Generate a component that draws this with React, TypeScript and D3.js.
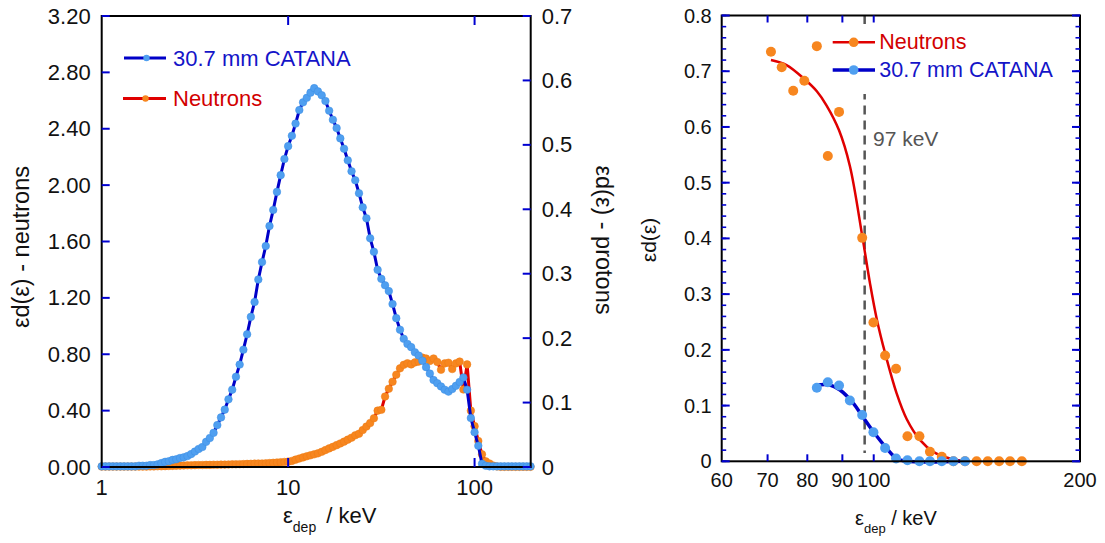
import React from 'react';
import * as d3 from 'd3';

// ---------- Left panel data (keV bins, 50 per decade) ----------
const energies = [
  1.000, 1.047, 1.096, 1.148, 1.202, 1.259, 1.318, 1.380, 1.445, 1.514,
  1.585, 1.660, 1.738, 1.820, 1.905, 1.995, 2.089, 2.188, 2.291, 2.399,
  2.512, 2.630, 2.754, 2.884, 3.020, 3.162, 3.311, 3.467, 3.631, 3.802,
  3.981, 4.169, 4.365, 4.571, 4.786, 5.012, 5.248, 5.495, 5.754, 6.026,
  6.310, 6.607, 6.918, 7.244, 7.586, 7.943, 8.318, 8.710, 9.120, 9.550,
  10.00, 10.47, 10.96, 11.48, 12.02, 12.59, 13.18, 13.80, 14.45, 15.14,
  15.85, 16.60, 17.38, 18.20, 19.05, 19.95, 20.89, 21.88, 22.91, 23.99,
  25.12, 26.30, 27.54, 28.84, 30.20, 31.62, 33.11, 34.67, 36.31, 38.02,
  39.81, 41.69, 43.65, 45.71, 47.86, 50.12, 52.48, 54.95, 57.54, 60.26,
  63.10, 66.07, 69.18, 72.44, 75.86, 79.43, 83.18, 87.10, 91.20, 95.50,
  100.0, 104.7, 109.6, 114.8, 120.2, 125.9, 131.8, 138.0, 144.5, 151.4,
  158.5, 166.0, 173.8, 182.0, 190.5, 199.5,
];

// 30.7 mm CATANA (protons) - right axis units
const catanaLeft = [
  0.001, 0.001, 0.001, 0.001, 0.001, 0.001, 0.001, 0.001, 0.001, 0.001,
  0.002, 0.002, 0.002, 0.003, 0.003, 0.004, 0.006, 0.008, 0.009, 0.011,
  0.012, 0.014, 0.015, 0.017, 0.020, 0.024, 0.028, 0.031, 0.039, 0.045,
  0.053, 0.065, 0.077, 0.089, 0.105, 0.120, 0.140, 0.159, 0.182, 0.206,
  0.233, 0.256, 0.291, 0.318, 0.343, 0.374, 0.399, 0.427, 0.453, 0.478,
  0.498, 0.514, 0.533, 0.554, 0.566, 0.573, 0.581, 0.588, 0.583, 0.577,
  0.568, 0.553, 0.539, 0.526, 0.510, 0.494, 0.476, 0.459, 0.445, 0.425,
  0.403, 0.386, 0.355, 0.334, 0.306, 0.292, 0.282, 0.273, 0.253, 0.231,
  0.213, 0.199, 0.191, 0.186, 0.178, 0.173, 0.165, 0.155, 0.145, 0.135,
  0.130, 0.125, 0.120, 0.117, 0.121, 0.126, 0.132, 0.139, 0.120, 0.076,
  0.054, 0.033, 0.005, 0.002, 0.001, 0.001, 0.001, 0.001, 0.001, 0.001,
  0.001, 0.001, 0.001, 0.001, 0.001, 0.001,
];

// Neutrons - left axis units
const neutronsLeft = [
  0.003, 0.003, 0.003, 0.003, 0.003, 0.003, 0.003, 0.003, 0.003, 0.003,
  0.003, 0.003, 0.003, 0.004, 0.004, 0.005, 0.005, 0.006, 0.007, 0.008,
  0.009, 0.010, 0.011, 0.012, 0.012, 0.013, 0.014, 0.014, 0.015, 0.015,
  0.016, 0.016, 0.017, 0.017, 0.018, 0.019, 0.019, 0.020, 0.021, 0.022,
  0.023, 0.024, 0.025, 0.025, 0.026, 0.028, 0.030, 0.032, 0.034, 0.036,
  0.038, 0.043, 0.052, 0.060, 0.068, 0.076, 0.083, 0.090, 0.097, 0.108,
  0.120, 0.132, 0.143, 0.155, 0.167, 0.180, 0.194, 0.208, 0.225, 0.236,
  0.262, 0.287, 0.312, 0.346, 0.400, 0.406, 0.500, 0.555, 0.605, 0.655,
  0.700, 0.725, 0.736, 0.728, 0.742, 0.748, 0.776, 0.770, 0.752, 0.770,
  0.745, 0.690, 0.735, 0.740, 0.695, 0.735, 0.748, 0.550, 0.728, 0.400,
  0.290, 0.185, 0.090, 0.040, 0.025, 0.010, 0.004, 0.001, 0.001, 0.001,
  0.001, 0.001, 0.001, 0.001, 0.001, 0.001,
];

const leftYTicks = [0, 0.4, 0.8, 1.2, 1.6, 2.0, 2.4, 2.8, 3.2];
const leftY2Ticks = [0, 0.1, 0.2, 0.3, 0.4, 0.5, 0.6, 0.7];
const leftXTicks = [1, 10, 100];
const leftXMarks = [10, 100];

// ---------- Right panel data ----------
const neutronE2 = [70.8, 73.4, 76.3, 79.2, 82.6, 85.7, 89.0, 96.2, 99.9, 103.9, 107.8, 112.0, 116.6, 120.8, 125.7, 130.7, 135.9, 141.3, 146.7, 152.4, 158.1, 164.5];
const neutronV2 = [0.735, 0.707, 0.665, 0.683, 0.745, 0.548, 0.627, 0.401, 0.249, 0.190, 0.166, 0.045, 0.045, 0.017, 0.008, 0, 0, 0, 0, 0, 0, 0];
const catanaE2 = [82.6, 85.7, 89.0, 92.3, 96.2, 99.9, 103.9, 107.8, 112.0, 116.6, 120.8, 125.7, 130.7, 135.9];
const catanaV2 = [0.132, 0.142, 0.136, 0.109, 0.083, 0.052, 0.024, 0.005, 0.002, 0, 0, 0, 0, 0];

const neutronFitE = [70.8, 74.6, 79.2, 82.6, 85.4, 89.0, 92.3, 96.2, 98.8, 101.0, 103.9, 108.0, 111.7, 116.9, 122.2, 129.2, 135.9];
const neutronFitV = [0.720, 0.711, 0.686, 0.664, 0.638, 0.594, 0.530, 0.405, 0.318, 0.256, 0.194, 0.122, 0.076, 0.038, 0.017, 0.005, 0.0];
const catanaFitE = [82.6, 86.3, 89.3, 93.4, 96.0, 99.9, 104.5, 108.0, 111.7, 135.9];
const catanaFitV = [0.137, 0.137, 0.128, 0.104, 0.083, 0.053, 0.023, 0.005, 0.0, 0.0];

const thresholdE = 97;
const rightXTicks = [60, 70, 80, 90, 100, 200];
const rightXMarks = [70, 80, 90, 100];
const rightYTicks = [0, 0.1, 0.2, 0.3, 0.4, 0.5, 0.6, 0.7, 0.8];

const FONT = "'Liberation Sans', Arial, Helvetica, sans-serif";
const BLUE_LINE = '#0000c8';
const BLUE_PT = '#4f9ff0';
const BLUE_PT_EDGE = '#3b8ce2';
const ORANGE_PT = '#f7861f';
const ORANGE_PT_EDGE = '#ec7a12';
const RED_LINE = '#e00000';
const TICK = '#0000d0';
const TXT = '#111';

export default function App() {
  // ---------- left panel scales ----------
  const L = { x0: 101.7, x1: 530.7, y0: 16, y1: 467 };
  const xL = d3.scaleLog().domain([1, 200]).range([L.x0, L.x1]);
  const yL = d3.scaleLinear().domain([0, 3.2]).range([L.y1, L.y0]);
  const yL2 = d3.scaleLinear().domain([0, 0.7]).range([L.y1, L.y0]);

  const catanaPts = energies.map((e, i) => [xL(e), yL2(catanaLeft[i])] as [number, number]);
  const neutronPts = energies.map((e, i) => [xL(e), yL(neutronsLeft[i])] as [number, number]);
  const lineGen = d3.line();

  // ---------- right panel scales ----------
  const R = { x0: 721.7, x1: 1080, y0: 15.5, y1: 461.3 };
  const xR = d3.scaleLog().domain([60, 200]).range([R.x0, R.x1]);
  const yR = d3.scaleLinear().domain([0, 0.8]).range([R.y1, R.y0]);
  const minorR = yR.ticks(40);
  const smooth = d3.line().curve(d3.curveCatmullRom.alpha(0.5));
  const nFit = neutronFitE.map((e, i) => [xR(e), yR(neutronFitV[i])] as [number, number]);
  const cFit = catanaFitE.map((e, i) => [xR(e), yR(catanaFitV[i])] as [number, number]);

  const fmt2 = d3.format('.2f');
  const fmtG = d3.format('~g');

  return (
    <svg width={1105} height={543} style={{ position: 'absolute', left: 0, top: 0, background: '#fff' }} fontFamily={FONT}>
      <rect x={0} y={0} width={1105} height={543} fill="#fff" />

      {/* ================= LEFT PANEL ================= */}
      <path d={lineGen(neutronPts) || ''} fill="none" stroke={RED_LINE} strokeWidth={3} />
      {neutronPts.map((p, i) => (
        <circle key={'n' + i} cx={p[0]} cy={p[1]} r={3.8} fill={ORANGE_PT} stroke={ORANGE_PT_EDGE} strokeWidth={0.5} />
      ))}
      <path d={lineGen(catanaPts) || ''} fill="none" stroke={BLUE_LINE} strokeWidth={3} />
      {catanaPts.map((p, i) => (
        <circle key={'c' + i} cx={p[0]} cy={p[1]} r={3.8} fill={BLUE_PT} stroke={BLUE_PT_EDGE} strokeWidth={0.5} />
      ))}

      <rect x={L.x0} y={L.y0} width={L.x1 - L.x0} height={L.y1 - L.y0} fill="none" stroke="#000" strokeWidth={2} />

      {leftYTicks.map((v) => (
        <g key={'ly' + v}>
          <line x1={L.x0} x2={L.x0 + 8} y1={yL(v)} y2={yL(v)} stroke={TICK} strokeWidth={2} />
          <text x={L.x0 - 11} y={yL(v)} textAnchor="end" dominantBaseline="central" fontSize={22} fill={TXT}>{fmt2(v)}</text>
        </g>
      ))}
      {leftY2Ticks.map((v) => (
        <g key={'ry' + v}>
          <line x1={L.x1 - 8} x2={L.x1} y1={yL2(v)} y2={yL2(v)} stroke={TICK} strokeWidth={2} />
          <text x={L.x1 + 11} y={yL2(v)} textAnchor="start" dominantBaseline="central" fontSize={22} fill={TXT}>{fmtG(v)}</text>
        </g>
      ))}
      {leftXMarks.map((v) => (
        <g key={'lx' + v}>
          <line x1={xL(v)} x2={xL(v)} y1={L.y0} y2={L.y0 + 9} stroke={TICK} strokeWidth={2} />
          <line x1={xL(v)} x2={xL(v)} y1={L.y1 - 9} y2={L.y1} stroke={TICK} strokeWidth={2} />
        </g>
      ))}
      {leftXTicks.map((v) => (
        <text key={'lxl' + v} x={xL(v)} y={495} textAnchor="middle" fontSize={22} fill={TXT}>{v}</text>
      ))}

      <text x={283} y={523} fontSize={22} fill={TXT}>
        <tspan>ε</tspan>
        <tspan dy={9} fontSize={14}>dep</tspan>
        <tspan dy={-9} dx={4}> / keV</tspan>
      </text>
      <text transform="translate(21,247) rotate(-90)" textAnchor="middle" dominantBaseline="central" fontSize={23.5} fill={TXT}>εd(ε) - neutrons</text>
      <text transform="translate(604,240) rotate(90)" textAnchor="middle" dominantBaseline="central" fontSize={23.5} fill={TXT}>εd(ε) - protons</text>

      <line x1={124} x2={166} y1={58} y2={58} stroke={BLUE_LINE} strokeWidth={3} />
      <circle cx={146.5} cy={58} r={3.2} fill={BLUE_PT} />
      <text x={173} y={58} dominantBaseline="central" fontSize={22} fill="#1414c8">30.7 mm CATANA</text>
      <line x1={123} x2={166} y1={98.5} y2={98.5} stroke={RED_LINE} strokeWidth={3} />
      <circle cx={145.5} cy={98.5} r={3.2} fill={ORANGE_PT} />
      <text x={173} y={98.5} dominantBaseline="central" fontSize={22} fill="#d20000">Neutrons</text>

      {/* ================= RIGHT PANEL ================= */}
      <line x1={xR(thresholdE)} x2={xR(thresholdE)} y1={R.y0} y2={yR(0.015)} stroke="#555" strokeWidth={2.5} strokeDasharray="9,6" />
      <path d={smooth(nFit) || ''} fill="none" stroke={RED_LINE} strokeWidth={2.5} />
      <path d={smooth(cFit) || ''} fill="none" stroke={BLUE_LINE} strokeWidth={3.5} />
      {neutronE2.map((e, i) => (
        <circle key={'n2' + i} cx={xR(e)} cy={yR(neutronV2[i])} r={5} fill={ORANGE_PT} />
      ))}
      {catanaE2.map((e, i) => (
        <circle key={'c2' + i} cx={xR(e)} cy={yR(catanaV2[i])} r={5} fill={BLUE_PT} />
      ))}

      <rect x={829} y={24} width={232} height={70} fill="#fff" />
      <line x1={832.7} x2={875} y1={42.3} y2={42.3} stroke={RED_LINE} strokeWidth={2.5} />
      <circle cx={853.7} cy={42.3} r={4.8} fill={ORANGE_PT} />
      <text x={879.3} y={42.3} dominantBaseline="central" fontSize={21.5} fill="#d20000">Neutrons</text>
      <line x1={832.7} x2={875} y1={70} y2={70} stroke={BLUE_LINE} strokeWidth={3.5} />
      <circle cx={853.7} cy={70} r={4.8} fill={BLUE_PT} />
      <text x={879.3} y={70} dominantBaseline="central" fontSize={21.5} fill="#1414c8">30.7 mm CATANA</text>

      <text x={873} y={138} dominantBaseline="central" fontSize={21} fill="#555">97 keV</text>

      <rect x={R.x0} y={R.y0} width={R.x1 - R.x0} height={R.y1 - R.y0} fill="none" stroke="#000" strokeWidth={2} />

      {minorR.map((v, i) => (
        <g key={'rm' + i}>
          <line x1={R.x0} x2={R.x0 + 4.5} y1={yR(v)} y2={yR(v)} stroke={TICK} strokeWidth={1.6} />
          <line x1={R.x1 - 4.5} x2={R.x1} y1={yR(v)} y2={yR(v)} stroke={TICK} strokeWidth={1.6} />
        </g>
      ))}
      {rightYTicks.map((v) => (
        <g key={'rY' + v}>
          <line x1={R.x0} x2={R.x0 + 8} y1={yR(v)} y2={yR(v)} stroke={TICK} strokeWidth={2} />
          <line x1={R.x1 - 8} x2={R.x1} y1={yR(v)} y2={yR(v)} stroke={TICK} strokeWidth={2} />
          <text x={R.x0 - 10} y={yR(v)} textAnchor="end" dominantBaseline="central" fontSize={20} fill={TXT}>{fmtG(v)}</text>
        </g>
      ))}
      {rightXMarks.map((v) => (
        <g key={'rX' + v}>
          <line x1={xR(v)} x2={xR(v)} y1={R.y0} y2={R.y0 + 7} stroke={TICK} strokeWidth={2} />
          <line x1={xR(v)} x2={xR(v)} y1={R.y1 - 7} y2={R.y1} stroke={TICK} strokeWidth={2} />
        </g>
      ))}
      {rightXTicks.map((v) => (
        <text key={'rXl' + v} x={xR(v)} y={487} textAnchor="middle" fontSize={20} fill={TXT}>{v}</text>
      ))}

      <text x={855} y={525} fontSize={20} fill={TXT}>
        <tspan>ε</tspan>
        <tspan dy={8} fontSize={13}>dep</tspan>
        <tspan dy={-8}> / keV</tspan>
      </text>
      <text transform="translate(648,240) rotate(-90)" textAnchor="middle" dominantBaseline="central" fontSize={21} fill={TXT}>εd(ε)</text>
    </svg>
  );
}
